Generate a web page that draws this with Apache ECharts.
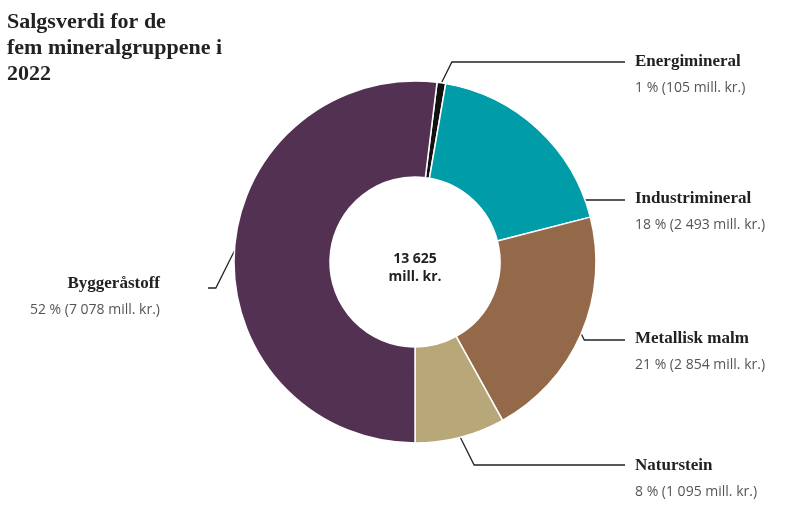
<!DOCTYPE html>
<html><head><meta charset="utf-8">
<script src="https://cdn.jsdelivr.net/npm/echarts@6/dist/echarts.min.js"></script>
<style>html,body{margin:0;background:#fff}#c{width:790px;height:527px}</style>
</head><body><div id="c"></div>
<script>
const names = ['Energimineral','Industrimineral','Metallisk malm','Naturstein','Byggeråstoff']
const values = [105, 2493, 2854, 1095, 7078]
const pcts = ['1 %','18 %','21 %','8 %','52 %']
const valueText = ['105 mill. kr.','2 493 mill. kr.','2 854 mill. kr.','1 095 mill. kr.','7 078 mill. kr.']
const colors = ['#111111','#009ca8','#93694a','#b8a778','#533152']
// label placement
const labelY = [49, 186, 326, 453, 271]
const lineY = [62, 200, 340, 465, 288]
const right = [true, true, true, true, false]

const chart = echarts.init(document.getElementById('c'))
chart.setOption({
  animation:false,
  title:{text:'Salgsverdi for de\nfem mineralgruppene i\n2022',left:2,top:4,
    textStyle:{fontFamily:'Liberation Serif',fontWeight:'bold',fontSize:22,lineHeight:26,color:'#222'}},
  graphic:[{type:'text',x:415,y:250,style:{text:'13 625\nmill. kr.',align:'center',
    fontFamily:'Open Sans',fontWeight:'bold',fontSize:14,lineHeight:18,fill:'#222'}}],
  series:[{
    type:'pie',center:[415,262],radius:[85,181],startAngle:83,clockwise:true,
    data:names.map((n,i)=>({name:n,value:values[i],itemStyle:{color:colors[i]}})),
    itemStyle:{borderColor:'#fff',borderWidth:1.5},
    label:{formatter:p=>`{n|${p.name}}\n{v|${pcts[p.dataIndex]} (${valueText[p.dataIndex]})}`,
      rich:{n:{fontFamily:'Liberation Serif',fontWeight:'bold',fontSize:17,color:'#222',lineHeight:26},
            v:{fontFamily:'Open Sans',fontSize:14,color:'#555',lineHeight:26}}},
    labelLine:{show:true,lineStyle:{color:'#222',width:1.3}},
    labelLayout:function(p){
      const i = p.dataIndex, p0 = p.labelLinePoints[0], ly = lineY[i]
      const s = right[i] ? 1 : -1
      const mid = [p0[0] + s*Math.abs(ly-p0[1])*0.5, ly]
      return right[i]
        ? {x:635,y:labelY[i],align:'left',verticalAlign:'top',labelLinePoints:[p0,mid,[625,ly]]}
        : {x:160,y:labelY[i],align:'right',verticalAlign:'top',labelLinePoints:[p0,mid,[208,ly]]}
    }
  }]
})
</script></body></html>
